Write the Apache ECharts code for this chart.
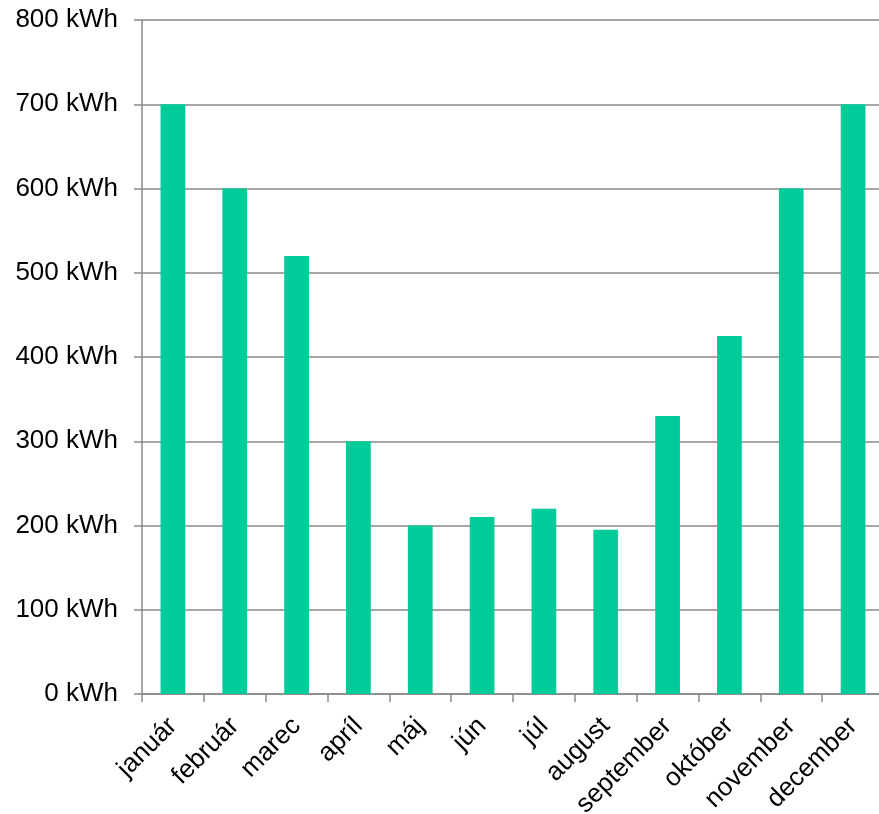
<!DOCTYPE html>
<html>
<head>
<meta charset="utf-8">
<script src="https://cdn.jsdelivr.net/npm/echarts@6/dist/echarts.min.js"></script>
<style>
  html, body { margin: 0; padding: 0; background: #ffffff; }
  #chart { width: 879px; height: 814px; }
</style>
</head>
<body>
<div id="chart"></div>
<script>
// Monthly energy consumption
const months = ['január', 'február', 'marec', 'apríl', 'máj', 'jún', 'júl', 'august', 'september', 'október', 'november', 'december'];
const consumption = [700, 600, 520, 300, 200, 210, 220, 195, 330, 425, 600, 700];
const yTicks = { min: 0, max: 800, interval: 100, unit: 'kWh' };

const axisGray = '#898989';
const font = 'Arial, "Liberation Sans", sans-serif';

const chart = echarts.init(document.getElementById('chart'), null, { renderer: 'canvas' });
chart.setOption({
  animation: false,
  backgroundColor: '#ffffff',
  grid: { left: 142, top: 20, width: 742, height: 674, containLabel: false, outerBoundsMode: 'none' },
  xAxis: {
    type: 'category',
    data: months,
    boundaryGap: true,
    axisLine: { show: true, lineStyle: { color: axisGray, width: 1.5 } },
    axisTick: { show: true, length: 8, alignWithLabel: false, lineStyle: { color: axisGray, width: 1.5 } },
    axisLabel: { rotate: 45, margin: 28, color: '#000', fontSize: 26, fontFamily: font, interval: 0 }
  },
  yAxis: {
    type: 'value',
    min: yTicks.min,
    max: yTicks.max,
    interval: yTicks.interval,
    axisLine: { show: true, lineStyle: { color: axisGray, width: 1.5 } },
    axisTick: { show: true, length: 8, lineStyle: { color: axisGray, width: 1.5 } },
    splitLine: { show: true, lineStyle: { color: axisGray, width: 1.5 } },
    axisLabel: {
      color: '#000', fontSize: 26, fontFamily: font, margin: 24,
      formatter: v => v + ' ' + yTicks.unit
    }
  },
  series: [{
    type: 'bar',
    data: consumption,
    barWidth: '40%',
    itemStyle: { color: '#00CC99' }
  }]
});
</script>
</body>
</html>
